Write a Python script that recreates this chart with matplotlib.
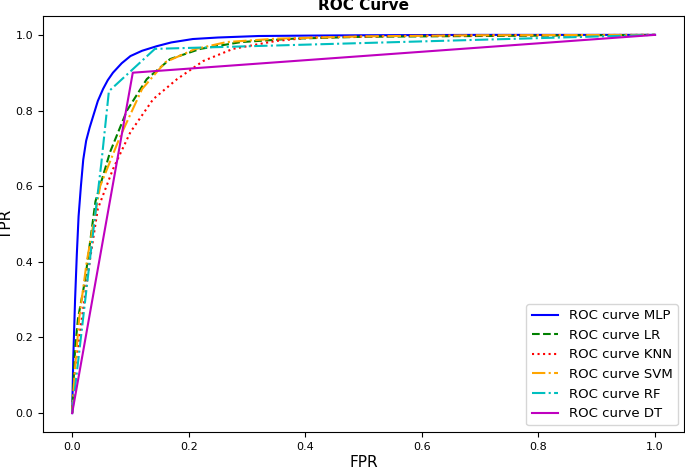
"""ROC curves for several classifiers."""

import matplotlib
matplotlib.use('Agg')
import matplotlib.pyplot as plt

# values
mlp_fpr = [0, 0.002, 0.005, 0.008, 0.011, 0.015, 0.019, 0.024, 0.03, 0.036, 0.044, 0.053, 0.061,
           0.07, 0.085, 0.10, 0.12, 0.145, 0.17, 0.207, 0.25, 0.32, 0.4, 0.5, 0.7, 1.0]
mlp_tpr = [0, 0.15, 0.3, 0.42, 0.52, 0.6, 0.67, 0.72, 0.755, 0.785, 0.825, 0.857, 0.88,
           0.90, 0.925, 0.944, 0.958, 0.97, 0.98, 0.989, 0.993, 0.997, 0.998, 0.999, 1.0, 1.0]

lr_fpr = [0, 0.005, 0.01, 0.022, 0.04, 0.065, 0.094, 0.128, 0.168, 0.22, 0.29, 0.38, 0.5, 0.7, 1.0]
lr_tpr = [0, 0.17, 0.25, 0.35, 0.56, 0.69, 0.80, 0.883, 0.936, 0.963, 0.981, 0.99, 0.995, 0.997, 1.0]

knn_fpr = [0, 0.005, 0.017, 0.031, 0.044, 0.07, 0.10, 0.139, 0.18, 0.225, 0.276, 0.35, 0.41, 0.55, 0.75, 1.0]
knn_tpr = [0, 0.12, 0.255, 0.41, 0.54, 0.645, 0.743, 0.83, 0.883, 0.931, 0.963, 0.984, 0.993, 0.997, 0.999, 1.0]

svm_fpr = [0, 0.005, 0.012, 0.025, 0.048, 0.082, 0.12, 0.16, 0.21, 0.265, 0.35, 0.5, 0.7, 1.0]
svm_tpr = [0, 0.12, 0.25, 0.4, 0.6, 0.73, 0.857, 0.928, 0.962, 0.981, 0.99, 0.996, 0.999, 1.0]

rf_fpr = [0, 0.03, 0.05, 0.063, 0.142, 1.0]
rf_tpr = [0, 0.40, 0.66, 0.851, 0.963, 1.0]

dt_fpr = [0, 0.104, 1.0]
dt_tpr = [0, 0.90, 1.0]


def main():
    fig = plt.figure(figsize=(6.85, 4.68), dpi=100)
    ax = fig.add_axes([0.0628, 0.0769, 0.936, 0.889])

    ax.plot(mlp_fpr, mlp_tpr, color='b', linestyle='-', label='ROC curve MLP')
    ax.plot(lr_fpr, lr_tpr, color='g', linestyle='--', label='ROC curve LR')
    ax.plot(knn_fpr, knn_tpr, color='r', linestyle=':', label='ROC curve KNN')
    ax.plot(svm_fpr, svm_tpr, color='orange', linestyle='-.', label='ROC curve SVM')
    ax.plot(rf_fpr, rf_tpr, color='c', linestyle='-.', label='ROC curve RF')
    ax.plot(dt_fpr, dt_tpr, color='m', linestyle='-', label='ROC curve DT')

    ax.set_xlim(-0.05, 1.05)
    ax.set_ylim(-0.05, 1.05)
    ax.tick_params(labelsize=8)
    ax.set_title('ROC Curve', fontweight='bold', fontsize=11, pad=4)
    ax.set_xlabel('FPR', fontsize=11, labelpad=2)
    ax.set_ylabel('TPR', fontsize=11, labelpad=1)
    ax.legend(loc='lower right', fontsize=9.5)

    fig.savefig('out.png', dpi=100)
    plt.close(fig)


if __name__ == '__main__':
    main()
